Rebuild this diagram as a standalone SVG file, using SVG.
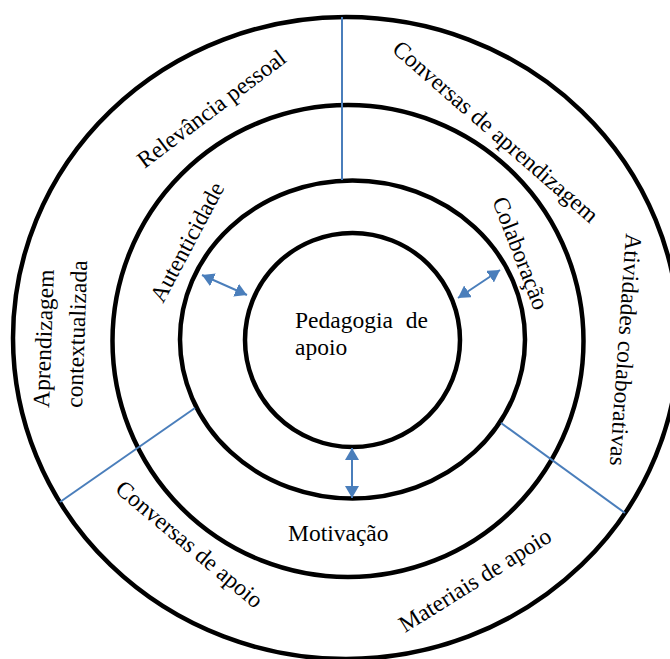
<svg xmlns="http://www.w3.org/2000/svg" width="670" height="659" viewBox="0 0 670 659">
<defs>
<style>
.ring{fill:none;stroke:#000;stroke-width:4.5}
.div{stroke:#4A7EBB;stroke-width:2;fill:none}
.arr{stroke:#4A7EBB;stroke-width:2;fill:none;marker-start:url(#ah);marker-end:url(#ah)}
text{font-family:"Liberation Serif","Times New Roman",serif;font-size:23.5px;fill:#000}
</style>
<marker id="ah" viewBox="0 0 12 14" refX="12" refY="7" markerWidth="12" markerHeight="14" markerUnits="userSpaceOnUse" orient="auto-start-reverse">
<path d="M0,0 L12,7 L0,14 z" fill="#4A7EBB"/>
</marker>
</defs>
<rect width="670" height="659" fill="#fff"/>
<g id="ring-outer"><ellipse class="ring" cx="346" cy="338" rx="333" ry="321"/></g>
<g id="ring-second"><ellipse class="ring" cx="348" cy="341" rx="235.5" ry="236"/></g>
<g id="ring-third"><ellipse class="ring" cx="352.5" cy="339.5" rx="172.5" ry="159"/></g>
<g id="ring-inner"><ellipse class="ring" cx="352.5" cy="340" rx="107.5" ry="107"/>
<text x="295" y="328" word-spacing="7">Pedagogia de</text>
<text x="295" y="355">apoio</text>
</g>
<g id="connectors">
<line class="div" x1="342" y1="17" x2="342" y2="180"/>
<line class="div" x1="195" y1="408" x2="60" y2="502"/>
<line class="div" x1="501" y1="423" x2="625" y2="513"/>
<line class="arr" x1="202" y1="275" x2="247" y2="295"/>
<line class="arr" x1="458" y1="298" x2="500" y2="270"/>
<line class="arr" x1="352" y1="448" x2="352" y2="498"/>
</g>
<g id="labels">
<text transform="translate(144.5,169) rotate(-37)">Relevância pessoal</text>
<text transform="translate(391,51) rotate(41)">Conversas de aprendizagem</text>
<text transform="translate(492,200.5) rotate(69)">Colaboração</text>
<text transform="translate(163,304) rotate(-62)">Autenticidade</text>
<text transform="translate(626,233) rotate(94)">Atividades colaborativas</text>
<text transform="translate(49,408) rotate(-88)">Aprendizagem</text>
<text transform="translate(82,408) rotate(-88)">contextualizada</text>
<text x="288" y="541">Motivação</text>
<text transform="translate(114,491) rotate(40)">Conversas de apoio</text>
<text transform="translate(405,633) rotate(-32)">Materiais de apoio</text>
</g>
</svg>
